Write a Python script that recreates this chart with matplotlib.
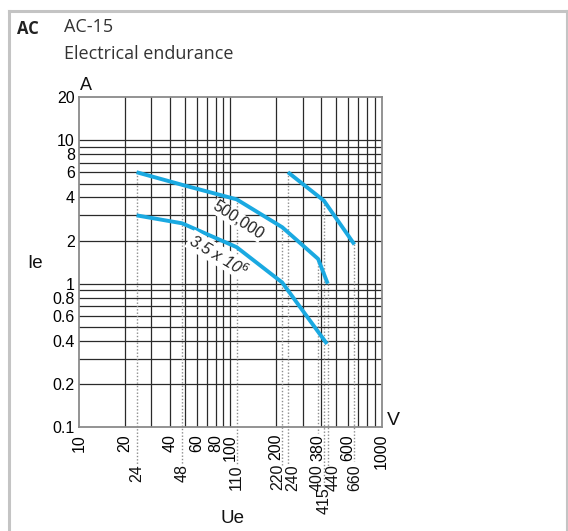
import numpy as np
import matplotlib
matplotlib.use("Agg")
import matplotlib.pyplot as plt
import matplotlib.transforms as mtransforms
from matplotlib.lines import Line2D

# curves (Ue in V, Ie in A)
ue_500k = [24, 48, 110, 220, 380, 440]
ie_500k = [6.0, 4.9, 3.88, 2.48, 1.49, 1.0]
ue_35m = [24, 48, 110, 220, 435]
ie_35m = [3.0, 2.64, 1.8, 1.02, 0.38]
ue_right = [240, 415, 660]
ie_right = [6.0, 3.8, 1.88]

# rated voltages marked with dotted lines, and where each line starts (A)
marked_ue = [24, 48, 110, 220, 240, 380, 415, 440, 660]
marked_top = [6.0, 4.9, 3.88, 2.48, 6.0, 1.49, 3.8, 1.0, 1.88]

x_grid = [20, 30, 40, 50, 60, 70, 80, 90, 100, 200, 300, 400, 500, 600, 700, 800, 900]
y_grid = [0.2, 0.3, 0.4, 0.5, 0.6, 0.7, 0.8, 0.9, 1, 2, 3, 4, 5, 6, 7, 8, 9, 10]
x_labels_row1 = [10, 20, 40, 60, 80, 100, 200, 380, 600, 1000]
x_labels_row2 = [24, 48, 110, 220, 240, 400, 440, 660]
y_labels = [0.1, 0.2, 0.4, 0.6, 0.8, 1, 2, 4, 6, 8, 10, 20]

W, H = 568, 531
fig = plt.figure(figsize=(W / 100, H / 100), dpi=100)
num_font = ["Liberation Sans Narrow", "Liberation Sans", "DejaVu Sans"]
head_font = ["Open Sans", "DejaVu Sans"]

def fx(px):
    return px / W

def fy(py):
    return 1 - py / H

# frame round the panel
fig.add_artist(Line2D([fx(8.5), fx(8.5)], [0, fy(11)], color="#c4c4c4", lw=2.2))
fig.add_artist(Line2D([fx(8.5), fx(567)], [fy(11), fy(11)], color="#c4c4c4", lw=2.2))
fig.add_artist(Line2D([fx(566.5), fx(566.5)], [0, fy(11)], color="#c4c4c4", lw=1.5))

fig.text(fx(17), fy(34), "AC", fontsize=12, fontweight="bold", family=head_font, color="#222")
fig.text(fx(64), fy(32), "AC-15", fontsize=13, family=head_font, color="#333")
fig.text(fx(64), fy(59), "Electrical endurance", fontsize=13, family=head_font, color="#333")

ax = fig.add_axes([fx(79), fy(427), (381.7 - 79) / W, (427 - 97.3) / H])
ax.set_xscale("log")
ax.set_yscale("log")
ax.set_xlim(10, 1000)
ax.set_ylim(0.1, 20)
ax.minorticks_off()

for v in x_grid:
    ax.axvline(v, color="#2a2a2a", lw=0.9, zorder=1)
for v in y_grid:
    ax.axhline(v, color="#2a2a2a", lw=0.9, zorder=1)
for s in ax.spines.values():
    s.set_color("#8a8a8a")
    s.set_linewidth(1.3)

ax.set_yticks(y_labels)
ax.set_yticklabels([f"{v:g}" for v in y_labels], family=num_font, fontsize=11.5)
ax.set_xticks(x_labels_row1)
ax.set_xticklabels([str(v) for v in x_labels_row1], family=num_font, fontsize=11.5, rotation=90)
ax.tick_params(length=0, pad=3)
ax.tick_params(axis="x", pad=5)

# second and third rows of voltage labels under the axis
row2_dx = {220: -4.5, 240: 5, 400: -4, 440: 5}
for v in x_labels_row2:
    tr = mtransforms.blended_transform_factory(ax.transData, fig.transFigure)
    tr = mtransforms.offset_copy(tr, fig=fig, x=row2_dx.get(v, 0) * 0.72, units="points")
    ax.text(v, fy(464), str(v), transform=tr, rotation=90, ha="center", va="top",
            family=num_font, fontsize=11.5, color="#111")
tr = mtransforms.blended_transform_factory(ax.transData, fig.transFigure)
ax.text(415, fy(487), "415", transform=tr, rotation=90, ha="center", va="top",
        family=num_font, fontsize=11.5, color="#111")

# dotted drop lines from the curves to their labels
label_top = {380: 433, 415: 487, 440: 467, 660: 461}
inv = ax.transData.inverted()
for v, top in zip(marked_ue, marked_top):
    py = label_top.get(v, 465)
    disp = fig.transFigure.transform((0, fy(py)))
    ybot = inv.transform((0, disp[1]))[1]
    ax.plot([v, v], [top, ybot], color="#8c8c8c", lw=1.0, ls=(0, (1, 1.4)),
            clip_on=False, zorder=2)

blue = "#1aa9e1"
for xs, ys in [(ue_500k, ie_500k), (ue_35m, ie_35m), (ue_right, ie_right)]:
    ax.plot(xs, ys, color=blue, lw=2.8, solid_capstyle="butt", zorder=4)

ax.text(112, 2.78, "500,000", rotation=-33, ha="center", va="center", fontsize=11.5,
        family=num_font, color="#222", zorder=5,
        bbox=dict(facecolor="white", edgecolor="none", pad=0.5))
ax.text(83, 1.58, "3.5 x 10$^6$", rotation=-31, ha="center", va="center", fontsize=11.5,
        family=num_font, color="#222", zorder=5, style="italic",
        bbox=dict(facecolor="white", edgecolor="none", pad=0.5))

fig.text(fx(80), fy(90), "A", fontsize=13, family=num_font, color="#111")
fig.text(fx(387), fy(425), "V", fontsize=14, family=num_font, color="#111")
fig.text(fx(27), fy(268), "Ie", fontsize=13.5, family=num_font, color="#111")
fig.text(fx(220), fy(523), "Ue", fontsize=13.5, family=num_font, color="#111")

fig.savefig("out.png", dpi=100)
